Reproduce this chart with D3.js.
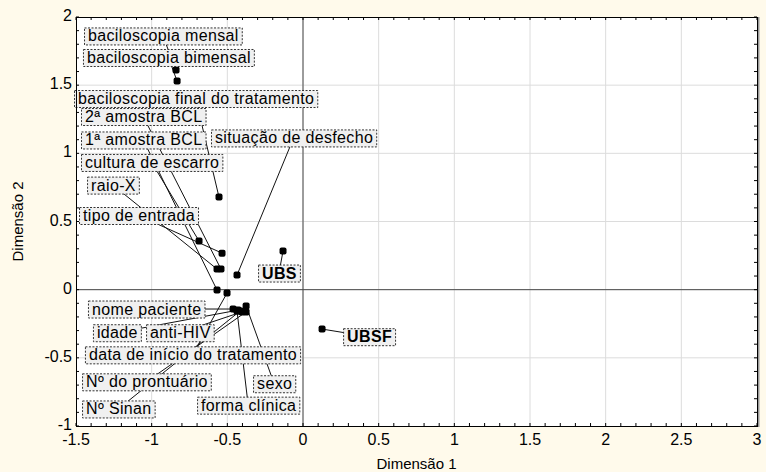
<!DOCTYPE html>
<html>
<head>
<meta charset="utf-8">
<script src="https://cdn.jsdelivr.net/npm/d3@7"></script>
<style>
body { margin: 0; background: #fffaeb; }
text { font-family: "Liberation Sans", Arial, sans-serif; }
</style>
</head>
<body>
<div id="chart"></div>
<script>
const width = 766;
const height = 472;
const margin = {top: 17, right: 9, bottom: 46, left: 76};

// categorias (pontos do mapa de correspondência)
const names = [
    "baciloscopia mensal", "baciloscopia bimensal", "baciloscopia final do tratamento",
    "2ª amostra BCL", "1ª amostra BCL", "situação de desfecho", "cultura de escarro",
    "raio-X", "tipo de entrada", "nome paciente", "idade", "anti-HIV",
    "data de início do tratamento", "Nº do prontuário", "Nº Sinan", "sexo",
    "forma clínica", "UBS", "UBSF"
];
const dim1 = [-0.839, -0.832, -0.555, -0.542, -0.568, -0.436, -0.687, -0.568, -0.535,
    -0.462, -0.429, -0.403, -0.502, -0.376, -0.416, -0.376, -0.436, -0.132, 0.126];
const dim2 = [1.611, 1.530, 0.679, 0.151, -0.003, 0.107, 0.357, 0.151, 0.268,
    -0.142, -0.150, -0.163, -0.025, -0.163, -0.157, -0.119, -0.157, 0.283, -0.289];
// onde ficam os rótulos (canto esquerdo / meio), em unidades das dimensões
const labelX = [-1.447, -1.454, -1.513, -1.467, -1.467, -0.608, -1.467, -1.427, -1.480,
    -1.421, -1.388, -1.037, -1.441, -1.460, -1.460, -0.330, -0.700, -0.297, 0.265];
const labelY = [1.861, 1.703, 1.402, 1.270, 1.098, 1.113, 0.933, 0.767, 0.544,
    -0.142, -0.316, -0.316, -0.478, -0.676, -0.875, -0.690, -0.847, 0.122, -0.345];
const boldNames = ["UBS", "UBSF"];

const xTicks = [-1.5, -1, -0.5, 0, 0.5, 1, 1.5, 2, 2.5, 3];
const yTicks = [-1, -0.5, 0, 0.5, 1, 1.5, 2];

var svg = d3.select("#chart").append("svg")
    .attr("width", width).attr("height", height);

var x = d3.scaleLinear().domain([-1.5, 3]).range([margin.left, width - margin.right]);
var y = d3.scaleLinear().domain([-1, 2]).range([height - margin.bottom, margin.top]);

var x0 = x.range()[0], x1 = x.range()[1], y0 = y.range()[1], y1 = y.range()[0];

// área do gráfico
svg.append("rect")
    .attr("x", x0).attr("y", y0)
    .attr("width", x1 - x0).attr("height", y1 - y0)
    .attr("fill", "#fff");

// grade
svg.append("g").selectAll("line").data(xTicks.slice(1, -1)).enter().append("line")
    .attr("x1", d => x(d)).attr("x2", d => x(d))
    .attr("y1", y0).attr("y2", y1)
    .attr("stroke", "#dcdcdc");
svg.append("g").selectAll("line").data(yTicks.slice(1, -1)).enter().append("line")
    .attr("y1", d => y(d)).attr("y2", d => y(d))
    .attr("x1", x0).attr("x2", x1)
    .attr("stroke", "#dcdcdc");

// eixos no zero
svg.append("line").attr("x1", x(0)).attr("x2", x(0)).attr("y1", y0).attr("y2", y1)
    .attr("stroke", "#4a4a4a");
svg.append("line").attr("y1", y(0)).attr("y2", y(0)).attr("x1", x0).attr("x2", x1)
    .attr("stroke", "#4a4a4a");

// marcas menores
var xMinor = d3.range(-15, 31).map(i => i / 10);
var yMinor = d3.range(-10, 21).map(i => i / 10);
var ticks = svg.append("g").attr("stroke", "#000");
xMinor.forEach(function (d) {
    ticks.append("line").attr("x1", x(d)).attr("x2", x(d)).attr("y1", y1).attr("y2", y1 - 3);
    ticks.append("line").attr("x1", x(d)).attr("x2", x(d)).attr("y1", y0).attr("y2", y0 + 3);
});
yMinor.forEach(function (d) {
    ticks.append("line").attr("y1", y(d)).attr("y2", y(d)).attr("x1", x0).attr("x2", x0 + 3);
    ticks.append("line").attr("y1", y(d)).attr("y2", y(d)).attr("x1", x1).attr("x2", x1 - 3);
});

// rótulos dos eixos
svg.append("g").selectAll("text").data(xTicks).enter().append("text")
    .attr("x", d => x(d)).attr("y", y1 + 19)
    .attr("text-anchor", "middle")
    .attr("font-size", 16)
    .text(d => String(d));
svg.append("g").selectAll("text").data(yTicks).enter().append("text")
    .attr("x", x0 - 4).attr("y", d => y(d) + 4)
    .attr("text-anchor", "end")
    .attr("font-size", 16)
    .text(d => String(d));

svg.append("text")
    .attr("x", (x0 + x1) / 2).attr("y", 469)
    .attr("text-anchor", "middle").attr("font-size", 15)
    .text("Dimensão 1");
svg.append("text")
    .attr("transform", "translate(23," + ((y0 + y1) / 2) + ") rotate(-90)")
    .attr("text-anchor", "middle").attr("font-size", 15)
    .text("Dimensão 2");

var points = names.map(function (n, i) {
    return {name: n, px: x(dim1[i]), py: y(dim2[i]), lx: x(labelX[i]), ly: y(labelY[i]),
        bold: boldNames.indexOf(n) >= 0};
});

var gLines = svg.append("g");
var gDots = svg.append("g");
var gLabels = svg.append("g");

// caixas dos rótulos
var labels = gLabels.selectAll("g").data(points).enter().append("g");
labels.append("rect")
    .attr("fill", "#f0f0f0")
    .attr("stroke", "#333")
    .attr("stroke-width", 1)
    .attr("stroke-dasharray", "2,1.5");
labels.append("text")
    .attr("x", d => d.lx + 4)
    .attr("y", d => d.ly + 5.5)
    .attr("font-size", 16)
    .attr("letter-spacing", "0.35px")
    .attr("font-weight", d => d.bold ? "bold" : "normal")
    .text(d => d.name);

labels.each(function (d) {
    var w = d3.select(this).select("text").node().getComputedTextLength();
    d.bx = d.lx; d.by = d.ly - 8.5; d.bw = w + 7; d.bh = 17;
    d3.select(this).select("rect")
        .attr("x", d.bx + 0.5).attr("y", d.by + 0.5)
        .attr("width", d.bw).attr("height", d.bh);
});

// linhas de ligação: do centro da caixa até o ponto (a caixa cobre o resto)
gLines.selectAll("line").data(points).enter().append("line")
    .attr("x1", d => d.px).attr("y1", d => d.py)
    .attr("x2", d => d.bx + d.bw / 2)
    .attr("y2", d => d.by + d.bh / 2)
    .attr("stroke", "#111").attr("stroke-width", 1);

gDots.selectAll("rect").data(points).enter().append("rect")
    .attr("x", d => d.px - 3.5).attr("y", d => d.py - 3.5)
    .attr("width", 7).attr("height", 7).attr("rx", 2)
    .attr("fill", "#000");

// moldura
svg.append("line").attr("x1", x1 + 1.5).attr("x2", x1 + 1.5).attr("y1", y0).attr("y2", y1 + 1)
    .attr("stroke", "#999").attr("stroke-width", 2);
svg.append("rect")
    .attr("x", x0 + 0.5).attr("y", y0 + 0.5)
    .attr("width", x1 - x0).attr("height", y1 - y0)
    .attr("fill", "none").attr("stroke", "#000");
</script>
</body>
</html>
